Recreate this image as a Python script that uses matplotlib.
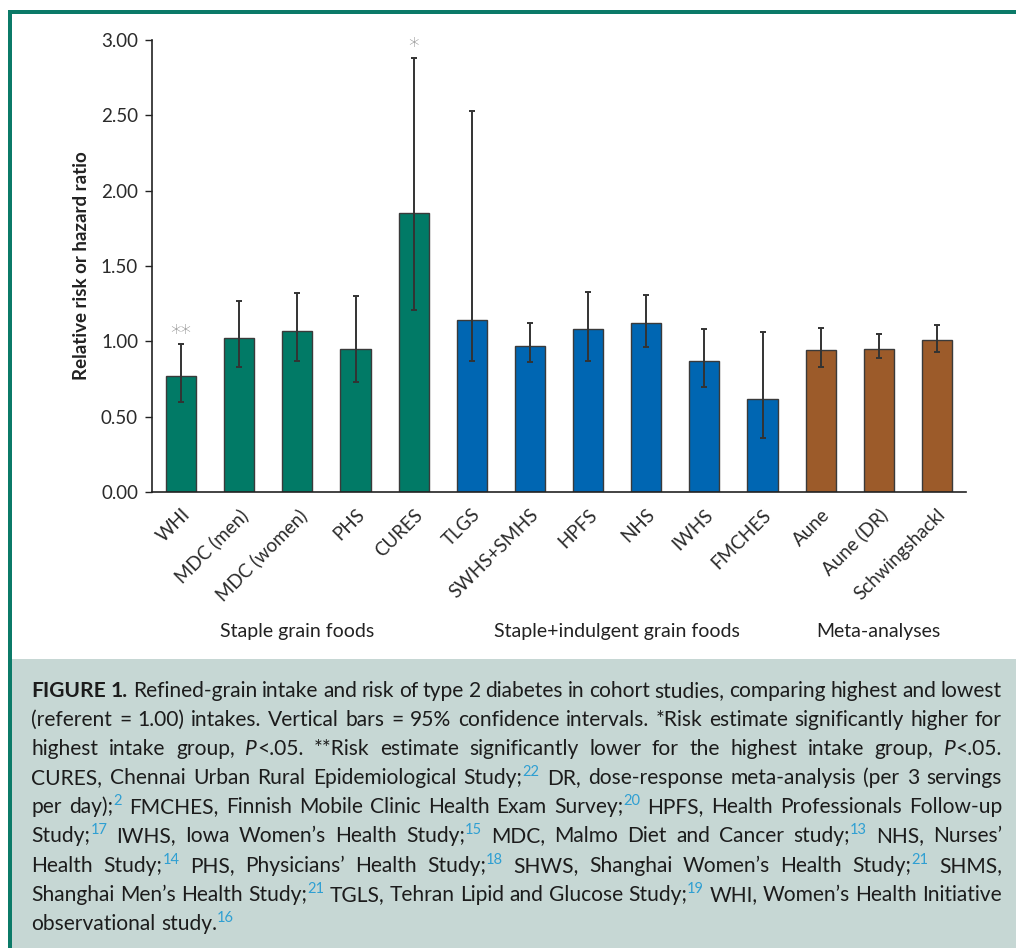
import matplotlib
matplotlib.use("Agg")
import matplotlib.pyplot as plt
from matplotlib.patches import Rectangle
from matplotlib.transforms import blended_transform_factory

# ---------------- data ----------------
studies = ["WHI", "MDC (men)", "MDC (women)", "PHS", "CURES",
           "TLGS", "SWHS+SMHS", "HPFS", "NHS", "IWHS", "FMCHES",
           "Aune", "Aune (DR)", "Schwingshackl"]
groups = ["staple"] * 5 + ["indulgent"] * 6 + ["meta"] * 3
risk = [0.77, 1.02, 1.07, 0.95, 1.85, 1.14, 0.97, 1.08, 1.12, 0.87, 0.62, 0.94, 0.95, 1.01]
ci_low = [0.60, 0.83, 0.87, 0.73, 1.21, 0.87, 0.86, 0.87, 0.96, 0.70, 0.36, 0.83, 0.89, 0.93]
ci_high = [0.98, 1.27, 1.32, 1.30, 2.88, 2.53, 1.12, 1.33, 1.31, 1.08, 1.06, 1.09, 1.05, 1.11]
significance = ["**", "", "", "", "*", "", "", "", "", "", "", "", "", ""]
group_names = {"staple": "Staple grain foods",
               "indulgent": "Staple+indulgent grain foods",
               "meta": "Meta-analyses"}
group_colors = {"staple": "#017A66", "indulgent": "#0066B2", "meta": "#9C5B2A"}
yticks = [0.0, 0.5, 1.0, 1.5, 2.0, 2.5, 3.0]

FONT = "Lato"
W, H = 1016, 948
fig = plt.figure(figsize=(W / 100, H / 100), dpi=100)
fig.patch.set_facecolor("white")

# frame and caption background
teal = "#0B7A68"
fig.patches.append(Rectangle((11 / W, 0), 1 - 11 / W, (H - 659) / H,
                             transform=fig.transFigure, facecolor="#C6D7D4",
                             edgecolor="none", zorder=0))
fig.patches.append(Rectangle((8 / W, 1 - 13.5 / H), 1 - 8 / W, 3.5 / H,
                             transform=fig.transFigure, facecolor=teal,
                             edgecolor="none", zorder=1))
fig.patches.append(Rectangle((8 / W, 0), 3.5 / W, 1 - 10 / H,
                             transform=fig.transFigure, facecolor=teal,
                             edgecolor="none", zorder=1))

# ---------------- chart ----------------
ax = fig.add_axes([152 / W, 1 - 492 / H, (966 - 152) / W, (492 - 40) / H])
x = list(range(len(studies)))
colors = [group_colors[g] for g in groups]
yerr = [[r - lo for r, lo in zip(risk, ci_low)], [hi - r for r, hi in zip(risk, ci_high)]]
ax.bar(x, risk, width=0.52, color=colors, edgecolor="#3a3a3a", linewidth=1.0, zorder=2)
ax.errorbar(x, risk, yerr=yerr, fmt="none", ecolor="#333333", elinewidth=1.4,
            capsize=2.2, capthick=1.4, zorder=3)
for xi, hi, s in zip(x, ci_high, significance):
    if s:
        ax.text(xi, hi + 0.005, s, ha="center", va="bottom", fontsize=15,
                color="#8a8a8a", family="DejaVu Sans", fontweight="light")

ax.set_xlim(-0.5, len(studies) - 0.5)
ax.set_ylim(0, 3.0)
ax.set_yticks(yticks)
ax.set_yticklabels([f"{v:.2f}" for v in yticks], family=FONT,
                   fontsize=13.5, color="#2a2a2a")
ax.tick_params(axis="y", length=5, width=1, pad=5, color="#222222")
ax.set_xticks(x)
ax.set_xticklabels(studies, rotation=45, ha="right", va="top", rotation_mode="anchor",
                   family=FONT, fontsize=13.5, color="#2a2a2a")
ax.tick_params(axis="x", length=0, pad=10)
for sp in ["top", "right"]:
    ax.spines[sp].set_visible(False)
for sp in ["left", "bottom"]:
    ax.spines[sp].set_linewidth(1.2)
    ax.spines[sp].set_color("#222222")
ax.set_ylabel("Relative risk or hazard ratio", family=FONT, fontweight="bold",
              fontsize=13.5, color="#222222", labelpad=8)

trans = blended_transform_factory(ax.transData, fig.transFigure)
for g, name in group_names.items():
    idx = [i for i, gg in enumerate(groups) if gg == g]
    cx = (idx[0] + idx[-1]) / 2
    fig.text(cx, 1 - 632 / H, name, transform=trans, ha="center", va="center",
             family=FONT, fontsize=14, color="#222222")

# ---------------- caption ----------------
caption_lines = [
    [("FIGURE 1.", "b"), (" Refined-grain intake and risk of type 2 diabetes in cohort studies, comparing highest and lowest", "n")],
    [("(referent = 1.00) intakes. Vertical bars = 95% confidence intervals. *Risk estimate significantly higher for", "n")],
    [("highest intake group, ", "n"), ("P", "i"), ("<.05. **Risk estimate significantly lower for the highest intake group, ", "n"), ("P", "i"), ("<.05.", "n")],
    [("CURES, Chennai Urban Rural Epidemiological Study;", "n"), ("22", "s"), (" DR, dose-response meta-analysis (per 3 servings", "n")],
    [("per day);", "n"), ("2", "s"), (" FMCHES, Finnish Mobile Clinic Health Exam Survey;", "n"), ("20", "s"), (" HPFS, Health Professionals Follow-up", "n")],
    [("Study;", "n"), ("17", "s"), (" IWHS, Iowa Women\u2019s Health Study;", "n"), ("15", "s"), (" MDC, Malmo Diet and Cancer study;", "n"), ("13", "s"), (" NHS, Nurses\u2019", "n")],
    [("Health Study;", "n"), ("14", "s"), (" PHS, Physicians\u2019 Health Study;", "n"), ("18", "s"), (" SHWS, Shanghai Women\u2019s Health Study;", "n"), ("21", "s"), (" SHMS,", "n")],
    [("Shanghai Men\u2019s Health Study;", "n"), ("21", "s"), (" TGLS, Tehran Lipid and Glucose Study;", "n"), ("19", "s"), (" WHI, Women\u2019s Health Initiative", "n")],
    [("observational study.", "n"), ("16", "s")],
]

CAP_FS = 15.1
def style_kw(st):
    kw = dict(family=FONT, fontsize=CAP_FS, color="#1c1c1c")
    if st == "b":
        kw["fontweight"] = "bold"
    elif st == "i":
        kw["fontstyle"] = "italic"
    elif st == "s":
        kw["fontsize"] = 10.5
        kw["color"] = "#2E9FD2"
    return kw

renderer = fig.canvas.get_renderer()

def seg_width(txt, st):
    t = fig.text(0, 0, txt, **style_kw(st))
    w = t.get_window_extent(renderer).width
    t.remove()
    return w

def tokens_of(segs):
    toks = [[]]
    for txt, st in segs:
        parts = txt.split(" ")
        for k, p in enumerate(parts):
            if k > 0:
                toks.append([])
            if p:
                toks[-1].append((p, st))
    return [t for t in toks if t]

x_left, x_right = 31.5, 1002.0
space_w = CAP_FS * 100 / 72 * 0.26
baseline0, line_gap = 697.0, 29.1
for li, segs in enumerate(caption_lines):
    toks = tokens_of(segs)
    widths = [[seg_width(txt, st) for txt, st in tok] for tok in toks]
    total = sum(sum(w) for w in widths)
    last = li == len(caption_lines) - 1
    gap = space_w if (last or len(toks) < 2) else (x_right - x_left - total) / (len(toks) - 1)
    yb = baseline0 + li * line_gap
    cx = x_left
    for tok, ws in zip(toks, widths):
        for (txt, st), w in zip(tok, ws):
            yy = yb - 8 if st == "s" else yb
            fig.text(cx / W, 1 - yy / H, txt, ha="left", va="baseline", **style_kw(st))
            cx += w
        cx += gap

fig.savefig("out.png", dpi=100)
